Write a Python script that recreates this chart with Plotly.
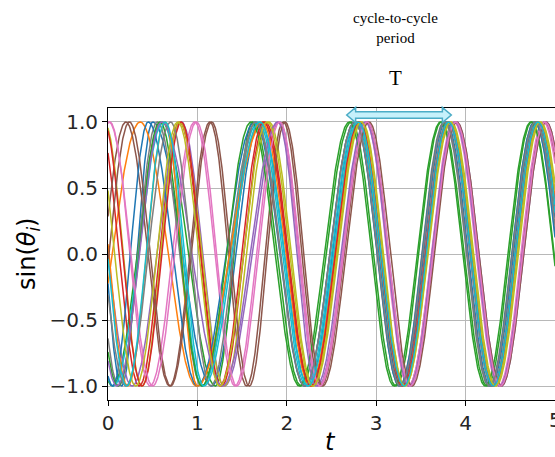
import numpy as np
import plotly.graph_objects as go

# ---- data: extremum times of each oscillator's sin(theta_i) ----
# first extremum type ('P' = peak, +1 ; 'T' = trough, -1) followed by alternating extrema times
osc_first = ['T', 'P', 'T', 'T', 'T', 'P', 'P', 'T', 'T', 'T',
             'T', 'T', 'P', 'P', 'T', 'P', 'T', 'T', 'P', 'P']
osc_ext = [
    [0.15, 0.50, 1.16, 1.70, 2.24, 2.78, 3.28, 3.78, 4.28, 4.79],
    [0.36, 0.99, 1.74, 2.28, 2.82, 3.30, 3.82, 4.32, 4.82],
    [0.05, 0.60, 1.20, 1.62, 2.16, 2.72, 3.22, 3.73, 4.24, 4.74],
    [0.35, 0.80, 1.27, 1.76, 2.27, 2.80, 3.29, 3.80, 4.30, 4.80],
    [0.27, 0.82, 1.30, 1.92, 2.35, 2.90, 3.38, 3.90, 4.40, 4.90],
    [0.20, 0.69, 1.14, 1.55, 1.96, 2.38, 2.90, 3.36, 3.88, 4.38, 4.88],
    [0.02, 0.47, 0.97, 1.42, 1.90, 2.36, 2.88, 3.36, 3.87, 4.37, 4.87],
    [0.12, 0.55, 1.05, 1.66, 2.20, 2.76, 3.26, 3.76, 4.26, 4.77],
    [0.38, 0.80, 1.30, 1.80, 2.30, 2.84, 3.32, 3.84, 4.34, 4.84],
    [0.06, 0.62, 1.05, 1.68, 2.22, 2.78, 3.30, 3.80, 4.30, 4.80],
    [0.05, 0.45, 1.00, 1.64, 2.20, 2.76, 3.26, 3.77, 4.27, 4.77],
    [0.22, 0.64, 1.00, 1.72, 2.26, 2.80, 3.30, 3.81, 4.31, 4.81],
    [0.58, 1.05, 1.60, 2.14, 2.70, 3.20, 3.72, 4.22, 4.73],
    [-0.05, 0.38, 0.82, 1.25, 1.74, 2.27, 2.81, 3.30, 3.81, 4.31, 4.81],
    [0.10, 0.60, 1.28, 1.90, 2.33, 2.88, 3.37, 3.88, 4.38, 4.89],
    [0.24, 0.70, 1.16, 1.58, 1.98, 2.40, 2.92, 3.40, 3.90, 4.40, 4.90],
    [0.50, 0.99, 1.44, 1.92, 2.37, 2.90, 3.38, 3.89, 4.39, 4.89],
    [0.20, 0.70, 1.15, 1.65, 2.20, 2.76, 3.27, 3.77, 4.27, 4.78],
    [0.78, 1.25, 1.78, 2.29, 2.83, 3.32, 3.83, 4.33, 4.83],
    [0.64, 1.07, 1.70, 2.24, 2.80, 3.31, 3.81, 4.31, 4.81],
]
colors = ['#1f77b4', '#ff7f0e', '#2ca02c', '#d62728', '#9467bd',
          '#8c564b', '#e377c2', '#7f7f7f', '#bcbd22', '#17becf']

x_ticks = [0, 1, 2, 3, 4, 5]
y_ticks = [-1.0, -0.5, 0.0, 0.5, 1.0]
y_ticktext = ['\u22121.0', '\u22120.5', '0.0', '0.5', '1.0']

t_min, t_max = 0.0, 5.0
t = np.linspace(t_min, t_max, 1201)


def phase_curve(first, ext):
    ext = list(ext)
    base = np.pi / 2 if first == 'P' else 3 * np.pi / 2
    ph = [base + k * np.pi for k in range(len(ext))]
    # extend linearly before the first and after the last extremum
    s0 = (ph[1] - ph[0]) / (ext[1] - ext[0])
    s1 = (ph[-1] - ph[-2]) / (ext[-1] - ext[-2])
    ts = [t_min - 0.5] + ext + [t_max + 0.5]
    ps = [ph[0] - s0 * (ext[0] - (t_min - 0.5))] + ph + [ph[-1] + s1 * (t_max + 0.5 - ext[-1])]
    return np.interp(t, ts, ps)


fig = go.Figure()
for i, (f, e) in enumerate(zip(osc_first, osc_ext)):
    fig.add_trace(go.Scatter(x=t, y=np.sin(phase_curve(f, e)), mode='lines',
                             line=dict(color=colors[i % 10], width=1.5),
                             showlegend=False, hoverinfo='skip'))

W, H = 555, 457
ml, mr, mt, mb = 108, 0, 108, 57
tick_font = dict(family='DejaVu Sans', size=20, color='#262626')

axis_common = dict(showline=True, linecolor='black', linewidth=1, mirror=True,
                   ticks='outside', ticklen=5, tickwidth=1, tickcolor='black',
                   showgrid=True, gridcolor='#b8b8b8', gridwidth=0.8, zeroline=False,
                   tickfont=tick_font)

fig.update_layout(
    width=W, height=H,
    margin=dict(l=ml, r=mr, t=mt, b=mb, autoexpand=False),
    paper_bgcolor='white', plot_bgcolor='white',
    xaxis=dict(range=[t_min, t_max], tickvals=x_ticks[:-1],
               ticktext=[str(v) for v in x_ticks[:-1]], **axis_common),
    yaxis=dict(range=[-1.106, 1.106], tickvals=y_ticks, ticktext=y_ticktext, **axis_common),
)

# last x tick label sits on the right edge of the picture (half cut in the reference)
fig.add_annotation(text=str(x_ticks[-1]), xref='x', yref='paper', x=x_ticks[-1], y=0,
                   yshift=-20, showarrow=False, xanchor='center', yanchor='middle',
                   font=tick_font)

# arrow marking one period (T) near the top of the plot
ax0, ax1 = 2.67, 3.84
yc, hs, hh = 0.976, 0.011, 0.026
hl = 0.10
path = (f"M {ax0},{yc} L {ax0+hl},{yc+hh} L {ax0+hl},{yc+hs} L {ax1-hl},{yc+hs} "
        f"L {ax1-hl},{yc+hh} L {ax1},{yc} L {ax1-hl},{yc-hh} L {ax1-hl},{yc-hs} "
        f"L {ax0+hl},{yc-hs} L {ax0+hl},{yc-hh} Z")
fig.add_shape(type='path', path=path, xref='x', yref='paper',
              fillcolor='#c6f1fb', line=dict(color='#4bacc6', width=1.5), layer='above')

serif = 'Liberation Serif'
fig.add_annotation(text='cycle-to-cycle<br>period', xref='x', yref='paper', x=3.22, y=1.0,
                   yshift=80, showarrow=False, font=dict(family=serif, size=15, color='black'),
                   yanchor='middle')
fig.add_annotation(text='T', xref='x', yref='paper', x=3.22, y=1.0, yshift=30,
                   showarrow=False, font=dict(family=serif, size=21, color='black'), yanchor='middle')

# axis labels
fig.add_annotation(text='<i>t</i>', xref='paper', yref='paper', x=(330 - ml) / (W - ml), y=0,
                   yshift=-42, showarrow=False, yanchor='middle',
                   font=dict(family='DejaVu Sans', size=24, color='black'))
fig.add_annotation(text='sin(<i>θ<sub>i</sub></i>)', xref='paper', yref='paper',
                   x=(28 - ml) / (W - ml), y=0.5, textangle=-90, showarrow=False,
                   xanchor='center', yanchor='middle',
                   font=dict(family='DejaVu Sans', size=24, color='black'))

fig.write_html('out.html')
